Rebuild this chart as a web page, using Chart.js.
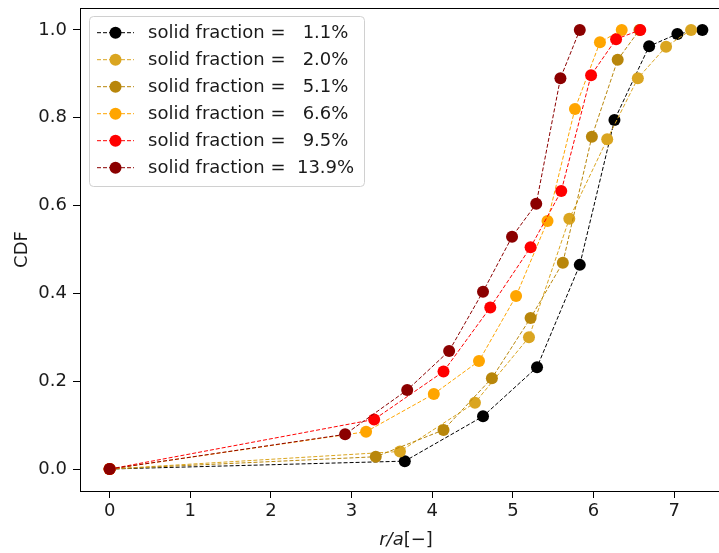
<!DOCTYPE html>
<html><head><meta charset="utf-8">
<style>html,body{margin:0;padding:0;background:#fff;overflow:hidden;width:719px;height:553px}canvas{display:block}</style>
<script src="https://cdn.jsdelivr.net/npm/chart.js@4/dist/chart.umd.min.js"></script>
</head><body><canvas id="c" width="740" height="553"></canvas>
<script>
// ---- data ----
const seriesLabels = [
  "solid fraction =   1.1%",
  "solid fraction =   2.0%",
  "solid fraction =   5.1%",
  "solid fraction =   6.6%",
  "solid fraction =   9.5%",
  "solid fraction =  13.9%"
];
const seriesColors = ["#000000", "#DAA520", "#B8860B", "#FFA500", "#FF0000", "#8B0000"];

const x_1_1 = [0, 3.66, 4.63, 5.30, 5.83, 6.26, 6.69, 7.04, 7.35];
const y_1_1 = [0, 0.018, 0.120, 0.232, 0.465, 0.795, 0.963, 0.991, 1.0];
const x_2_0 = [0, 3.60, 4.53, 5.20, 5.70, 6.17, 6.55, 6.90, 7.21];
const y_2_0 = [0, 0.040, 0.151, 0.300, 0.570, 0.751, 0.890, 0.962, 1.0];
const x_5_1 = [0, 3.30, 4.14, 4.74, 5.22, 5.62, 5.98, 6.30, 6.57];
const y_5_1 = [0, 0.028, 0.089, 0.207, 0.344, 0.470, 0.757, 0.932, 1.0];
const x_6_6 = [0, 3.18, 4.02, 4.58, 5.04, 5.43, 5.77, 6.08, 6.35];
const y_6_6 = [0, 0.085, 0.171, 0.246, 0.394, 0.565, 0.820, 0.972, 1.0];
const x_9_5 = [0, 3.28, 4.14, 4.72, 5.22, 5.60, 5.97, 6.28, 6.58];
const y_9_5 = [0, 0.113, 0.222, 0.368, 0.505, 0.633, 0.897, 0.979, 1.0];
const x_13_9 = [0, 2.92, 3.69, 4.21, 4.63, 4.99, 5.29, 5.59, 5.83];
const y_13_9 = [0, 0.079, 0.180, 0.269, 0.404, 0.529, 0.604, 0.890, 1.0];

const xTicks = [0, 1, 2, 3, 4, 5, 6, 7];
const yTicks = [0.0, 0.2, 0.4, 0.6, 0.8, 1.0];
const xTitle = ["r/a", "[\u2212]"];
const yTitle = "CDF";

const xsAll = [x_1_1, x_2_0, x_5_1, x_6_6, x_9_5, x_13_9];
const ysAll = [y_1_1, y_2_0, y_5_1, y_6_6, y_9_5, y_13_9];

const FONT = "'DejaVu Sans', sans-serif";
const TXT = "#1a1a1a";

const datasets = seriesLabels.map((lab, i) => ({
  label: lab,
  data: xsAll[i].map((x, k) => ({ x: x, y: ysAll[i][k] })),
  showLine: true,
  borderColor: seriesColors[i],
  backgroundColor: seriesColors[i],
  borderWidth: 1,
  borderDash: [4, 2],
  pointRadius: 6,
  pointHoverRadius: 6,
  pointBorderWidth: 0,
  pointBackgroundColor: seriesColors[i],
  order: -i,
  clip: false
}));

const framePlugin = {
  id: 'frame',
  afterDatasetsDraw(chart) {
    const a = chart.chartArea, ctx = chart.ctx;
    ctx.save();
    ctx.strokeStyle = '#000';
    ctx.lineWidth = 1;
    ctx.strokeRect(Math.round(a.left) + 0.5, Math.round(a.top) + 0.5,
                   Math.round(a.right - a.left), Math.round(a.bottom - a.top));
    ctx.restore();
  },
  afterDraw(chart) {
    const a = chart.chartArea, ctx = chart.ctx;
    ctx.save();
    // legend
    const bx = 89.5, by = 16.5, bw = 275, bh = 170, r = 4;
    ctx.beginPath();
    ctx.moveTo(bx + r, by);
    ctx.arcTo(bx + bw, by, bx + bw, by + bh, r);
    ctx.arcTo(bx + bw, by + bh, bx, by + bh, r);
    ctx.arcTo(bx, by + bh, bx, by, r);
    ctx.arcTo(bx, by, bx + bw, by, r);
    ctx.closePath();
    ctx.fillStyle = 'rgba(255,255,255,0.8)';
    ctx.fill();
    ctx.strokeStyle = '#d0d0d0';
    ctx.lineWidth = 1;
    ctx.stroke();
    chart.data.datasets.forEach((ds, i) => {
      const yy = 32.7 + i * 27;
      ctx.setLineDash([4, 2]);
      ctx.strokeStyle = ds.borderColor;
      ctx.lineWidth = 1;
      ctx.beginPath();
      ctx.moveTo(97, yy); ctx.lineTo(134, yy);
      ctx.stroke();
      ctx.setLineDash([]);
      ctx.fillStyle = ds.backgroundColor;
      ctx.beginPath();
      ctx.arc(115.5, yy, 6, 0, Math.PI * 2);
      ctx.fill();
      ctx.fillStyle = TXT;
      ctx.font = "18px " + FONT;
      ctx.textAlign = 'left';
      ctx.textBaseline = 'middle';
      ctx.fillText(ds.label, 148, yy + 1);
    });
    // axis titles
    ctx.fillStyle = TXT;
    ctx.textBaseline = 'middle';
    const cx = (a.left + a.right) / 2;
    ctx.font = "italic 18px " + FONT;
    const w1 = ctx.measureText(xTitle[0]).width;
    ctx.font = "18px " + FONT;
    const w2 = ctx.measureText(xTitle[1]).width;
    let sx = cx - (w1 + w2) / 2;
    ctx.textAlign = 'left';
    ctx.font = "italic 18px " + FONT;
    ctx.fillText(xTitle[0], sx, 540);
    ctx.font = "18px " + FONT;
    ctx.fillText(xTitle[1], sx + w1, 540);
    ctx.translate(22, (a.top + a.bottom) / 2);
    ctx.rotate(-Math.PI / 2);
    ctx.textAlign = 'center';
    ctx.fillText(yTitle, 0, 0);
    ctx.restore();
  }
};

new Chart(document.getElementById('c'), {
  type: 'scatter',
  data: { datasets: datasets },
  options: {
    responsive: false,
    animation: false,
    devicePixelRatio: 1,
    layout: { padding: { top: 8, right: 8, left: 0, bottom: 0 } },
    plugins: { legend: { display: false }, tooltip: { enabled: false } },
    scales: {
      x: {
        type: 'linear', min: -0.3675, max: 7.7175,
        afterFit(s) { s.height = 62; s.paddingLeft = 0; s.paddingRight = 0; },
        afterBuildTicks(s) { s.ticks = xTicks.map(v => ({ value: v })); },
        ticks: { color: TXT, font: { family: FONT, size: 18 }, padding: 3, maxRotation: 0,
                 callback: v => String(v) },
        grid: { drawOnChartArea: false, drawTicks: true, tickLength: 7, tickColor: '#000', tickWidth: 1 },
        border: { display: true, color: '#000', width: 1 },
        title: { display: false }
      },
      y: {
        type: 'linear', min: -0.05, max: 1.05,
        afterFit(s) { s.width = 80; s.paddingTop = 0; s.paddingBottom = 0; },
        afterBuildTicks(s) { s.ticks = yTicks.map(v => ({ value: v })); },
        ticks: { color: TXT, font: { family: FONT, size: 18 }, padding: 6,
                 callback: v => Number(v).toFixed(1) },
        grid: { drawOnChartArea: false, drawTicks: true, tickLength: 7, tickColor: '#000', tickWidth: 1 },
        border: { display: true, color: '#000', width: 1 },
        title: { display: false }
      }
    }
  },
  plugins: [framePlugin]
});
</script>
</body></html>
